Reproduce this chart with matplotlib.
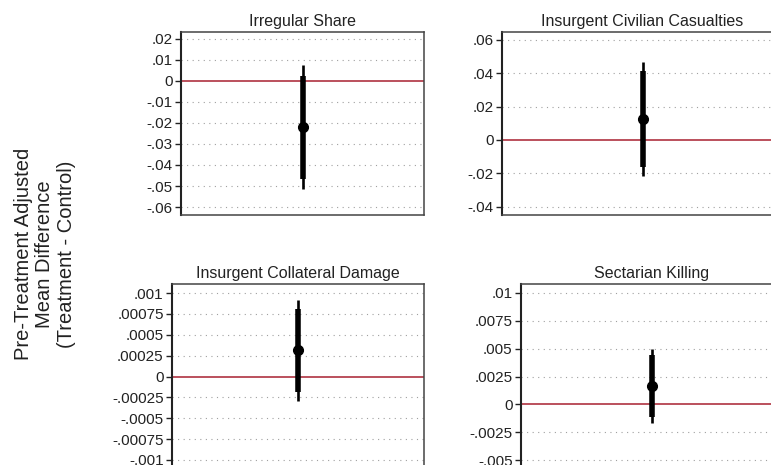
import matplotlib
matplotlib.use('Agg')
import matplotlib.pyplot as plt

plt.rcParams['font.family'] = ['Liberation Sans', 'DejaVu Sans']

titles = ['Irregular Share', 'Insurgent Civilian Casualties',
          'Insurgent Collateral Damage', 'Sectarian Killing']
estimates = [-0.0218, 0.0124, 0.000315, 0.00164]
ci_thick_lo = [-0.0467, -0.016, -0.000184, -0.0011]
ci_thick_hi = [0.0024, 0.041, 0.000813, 0.0044]
ci_thin_lo = [-0.0516, -0.0216, -0.00029, -0.0017]
ci_thin_hi = [0.0076, 0.0466, 0.00092, 0.00496]

tick_vals = [
    [0.02, 0.01, 0, -0.01, -0.02, -0.03, -0.04, -0.05, -0.06],
    [0.06, 0.04, 0.02, 0, -0.02, -0.04],
    [0.001, 0.00075, 0.0005, 0.00025, 0, -0.00025, -0.0005, -0.00075, -0.001],
    [0.01, 0.0075, 0.005, 0.0025, 0, -0.0025, -0.005],
]
tick_labels = [
    ['.02', '.01', '0', '-.01', '-.02', '-.03', '-.04', '-.05', '-.06'],
    ['.06', '.04', '.02', '0', '-.02', '-.04'],
    ['.001', '.00075', '.0005', '.00025', '0', '-.00025', '-.0005', '-.00075', '-.001'],
    ['.01', '.0075', '.005', '.0025', '0', '-.0025', '-.005'],
]
ylims = [(-0.0638, 0.0233), (-0.0448, 0.0645), (-0.001108, 0.001108), (-0.0058, 0.0108)]

W, H = 771, 465
# panel boxes in pixels: left, top, right, bottom
boxes = [(181, 32, 424, 215), (502, 32, 783, 215),
         (172, 284, 424, 469), (521, 284, 783, 469)]

fig = plt.figure(figsize=(W / 100, H / 100), dpi=100)

for i in range(4):
    l, t, r, b = boxes[i]
    ax = fig.add_axes([l / W, 1 - b / H, (r - l) / W, (b - t) / H])
    ax.set_xlim(-1, 1)
    ax.set_ylim(*ylims[i])
    for v in tick_vals[i]:
        if v != 0:
            ax.axhline(v, color='#a0a0a0', lw=0.8, ls=(0, (1, 4)), zorder=1)
    ax.axhline(0, color='#b5424f', lw=1.3, zorder=2)
    ax.vlines(0, ci_thin_lo[i], ci_thin_hi[i], color='black', lw=1.9, zorder=3)
    ax.vlines(0, ci_thick_lo[i], ci_thick_hi[i], color='black', lw=4, zorder=3)
    ax.plot(0, estimates[i], 'o', color='black', ms=7, zorder=4)
    ax.set_yticks(tick_vals[i])
    ax.set_yticklabels(tick_labels[i])
    ax.set_xticks([])
    ax.tick_params(axis='y', length=4, width=1, labelsize=11, pad=2, colors='#222222')
    for s in ax.spines.values():
        s.set_color('#444444')
        s.set_linewidth(1.1)
    ax.spines['left'].set_color('#222222')
    ax.spines['left'].set_linewidth(1.5)
    ax.set_title(titles[i], fontsize=11.5, pad=4, color='#222222')

fig.text(45 / W, 1 - 254 / H,
         'Pre-Treatment Adjusted\nMean Difference\n(Treatment - Control)',
         rotation=90, ha='center', va='center', multialignment='center',
         fontsize=14.5, color='#222222', linespacing=1.15)

fig.savefig('out.png', dpi=100)
